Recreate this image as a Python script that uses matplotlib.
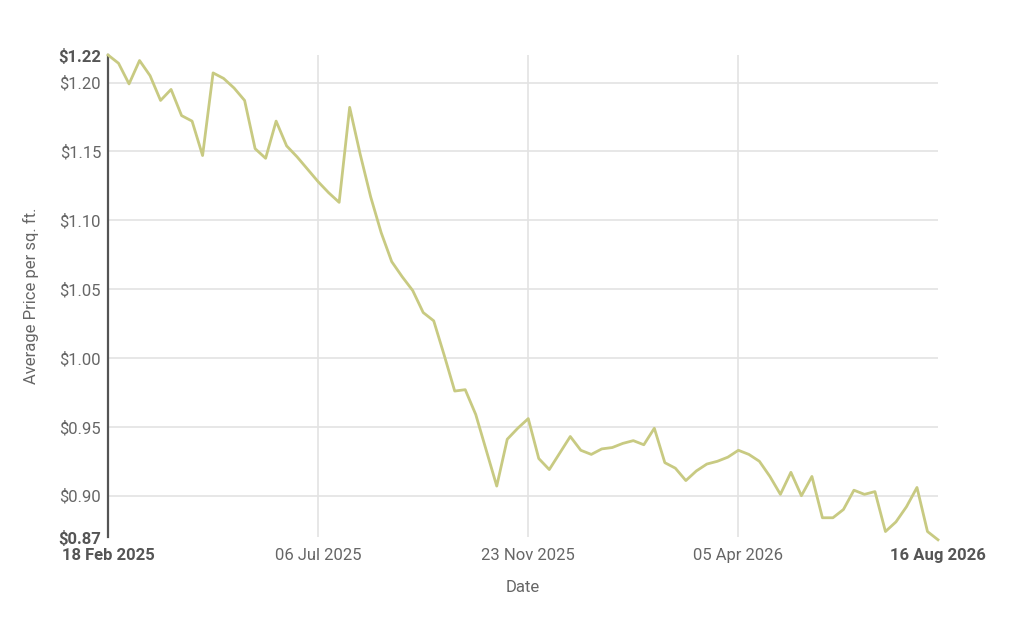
import matplotlib.pyplot as plt

plt.rcParams['font.family'] = ['Roboto', 'DejaVu Sans']

# average price per sq. ft., one value per period (80 periods)
prices = [
    1.220, 1.214, 1.199, 1.216, 1.205, 1.187, 1.195, 1.176, 1.172, 1.147,
    1.207, 1.203, 1.196, 1.187, 1.152, 1.145, 1.172, 1.154, 1.146, 1.137,
    1.128, 1.120, 1.113, 1.182, 1.148, 1.117, 1.091, 1.070, 1.059, 1.049,
    1.033, 1.027, 1.002, 0.976, 0.977, 0.959, 0.933, 0.907, 0.941, 0.949,
    0.956, 0.927, 0.919, 0.931, 0.943, 0.933, 0.930, 0.934, 0.935, 0.938,
    0.940, 0.937, 0.949, 0.924, 0.920, 0.911, 0.918, 0.923, 0.925, 0.928,
    0.933, 0.930, 0.925, 0.914, 0.901, 0.917, 0.900, 0.914, 0.884, 0.884,
    0.890, 0.904, 0.901, 0.903, 0.874, 0.881, 0.892, 0.906, 0.874, 0.868,
]
x_tick_idx = [0, 20, 40, 60, 79]
x_tick_labels = ['18 Feb 2025', '06 Jul 2025', '23 Nov 2025', '05 Apr 2026', '16 Aug 2026']
y_ticks = [0.87, 0.90, 0.95, 1.00, 1.05, 1.10, 1.15, 1.20, 1.22]

fig = plt.figure(figsize=(10.24, 6.18), dpi=100)
ax = fig.add_axes([0.1055, 0.131, 0.8105, 0.78])

grid_c = '#e3e3e3'
for v in y_ticks[1:-1]:
    ax.axhline(v, color=grid_c, lw=1.2, zorder=0)
for i in x_tick_idx[1:-1]:
    ax.axvline(i, color=grid_c, lw=1.2, zorder=0)

ax.plot(range(len(prices)), prices, color='#c8ca82', lw=2.0, zorder=3, clip_on=False)

ax.set_xlim(0, len(prices) - 1)
ax.set_ylim(0.87, 1.22)

ax.set_yticks(y_ticks)
ax.set_yticklabels(['$%.2f' % v for v in y_ticks])
ax.set_xticks(x_tick_idx)
ax.set_xticklabels(x_tick_labels)

ax.tick_params(length=0, labelsize=12, labelcolor='#666666')
ax.tick_params(axis='y', pad=5)
ax.tick_params(axis='x', pad=8)
for lab in [ax.get_yticklabels()[0], ax.get_yticklabels()[-1],
            ax.get_xticklabels()[0], ax.get_xticklabels()[-1]]:
    lab.set_fontweight('bold')
    lab.set_color('#555555')

for s in ['top', 'right', 'bottom']:
    ax.spines[s].set_visible(False)
ax.spines['left'].set_color('#555555')
ax.spines['left'].set_linewidth(1.6)

ax.set_xlabel('Date', fontsize=12, color='#666666', labelpad=12)
ax.set_ylabel('Average Price per sq. ft.', fontsize=12, color='#666666', labelpad=14)

fig.savefig('out.png', dpi=100)
